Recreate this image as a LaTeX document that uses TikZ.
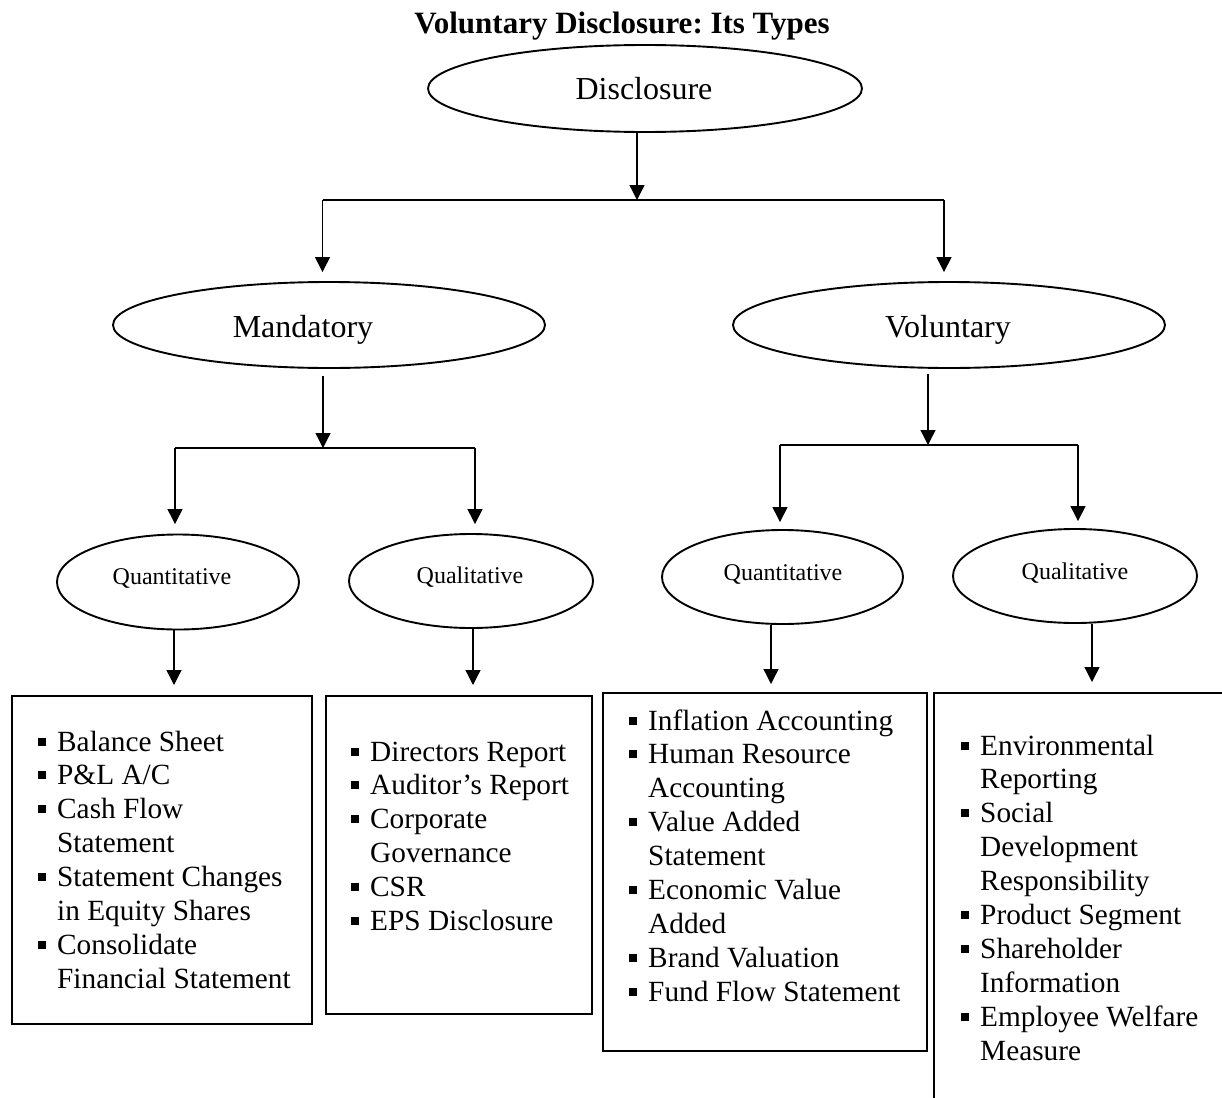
\documentclass[tikz,border=0pt]{standalone}
\usepackage{fontspec}
\setmainfont{Liberation Serif}
\usetikzlibrary{shapes.geometric,arrows.meta}
\newcommand\sqb{\raisebox{5.5pt}{\rule{8pt}{8pt}}}
\frenchspacing
\begin{document}
\begin{tikzpicture}[x=1pt,y=-1pt,
  oval/.style={draw,ellipse,line width=1.9pt,inner sep=0pt},
  conn/.style={line width=1.3pt},
  arr/.style={conn,-{Triangle[width=15pt,length=15pt]}},
  listbox/.style={draw,line width=2pt,rectangle,inner sep=0pt,anchor=north west},
  bigt/.style={inner sep=0pt,anchor=base,font=\fontsize{32}{38}\selectfont},
  smallt/.style={inner sep=0pt,anchor=base,font=\fontsize{24}{28}\selectfont},
  items/.style={inner sep=0pt,anchor=base west,font=\fontsize{29.3}{33.9}\selectfont},
]
\clip (0,0) rectangle (1222,1097);

% title
\node[inner sep=0pt,anchor=base,font=\fontsize{31}{36}\selectfont\bfseries] (title) at (622,34) {Voluntary Disclosure: Its Types};

% ellipses
\node[oval,minimum width=434pt,minimum height=87pt] (disc) at (645,88.5) {};
\node[bigt] (disct) at (644,100) {Disclosure};
\node[oval,minimum width=432pt,minimum height=86pt] (mand) at (329,325) {};
\node[bigt] (mandt) at (303,337) {Mandatory};
\node[oval,minimum width=432pt,minimum height=86pt] (vol) at (949,325) {};
\node[bigt] (volt) at (948,337) {Voluntary};

\node[oval,minimum width=242pt,minimum height=95pt] (mq) at (178,582) {};
\node[smallt] (mqt) at (172,584) {Quantitative};
\node[oval,minimum width=244pt,minimum height=94pt] (ml) at (471,581) {};
\node[smallt] (mlt) at (470,583) {Qualitative};
\node[oval,minimum width=241pt,minimum height=94pt] (vq) at (782.5,577) {};
\node[smallt] (vqt) at (783,580) {Quantitative};
\node[oval,minimum width=244pt,minimum height=94pt] (vl) at (1075,576) {};
\node[smallt] (vlt) at (1075,579) {Qualitative};

% boxes
\node[listbox,minimum width=300pt,minimum height=328pt] (box1) at (11,695) {};
\node[listbox,minimum width=266pt,minimum height=318pt] (box2) at (325,695) {};
\node[listbox,minimum width=324pt,minimum height=358pt] (box3) at (602,692) {};
\node[listbox,minimum width=330pt,minimum height=460pt] (box4) at (933,692) {};

% list texts
\node[items] (list1) at (38,751) {\begin{tabular}[t]{@{}l@{\hspace{11pt}}l@{}}
\sqb & Balance Sheet\\
\sqb & P\&L A/C\\
\sqb & Cash Flow\\
 & Statement\\
\sqb & Statement Changes\\
 & in Equity Shares\\
\sqb & Consolidate\\
 & Financial Statement
\end{tabular}};
\node[items] (list2) at (351,761) {\begin{tabular}[t]{@{}l@{\hspace{11pt}}l@{}}
\sqb & Directors Report\\
\sqb & Auditor’s Report\\
\sqb & Corporate\\
 & Governance\\
\sqb & CSR\\
\sqb & EPS Disclosure
\end{tabular}};
\node[items] (list3) at (629,730) {\begin{tabular}[t]{@{}l@{\hspace{11pt}}l@{}}
\sqb & Inflation Accounting\\
\sqb & Human Resource\\
 & Accounting\\
\sqb & Value Added\\
 & Statement\\
\sqb & Economic Value\\
 & Added\\
\sqb & Brand Valuation\\
\sqb & Fund Flow Statement
\end{tabular}};
\node[items] (list4) at (961,755) {\begin{tabular}[t]{@{}l@{\hspace{11pt}}l@{}}
\sqb & Environmental\\
 & Reporting\\
\sqb & Social\\
 & Development\\
 & Responsibility\\
\sqb & Product Segment\\
\sqb & Shareholder\\
 & Information\\
\sqb & Employee Welfare\\
 & Measure
\end{tabular}};

% junction coordinates
\coordinate (j0) at (637,200);
\coordinate (jm) at (322.5,200);
\coordinate (jv) at (944,200);
\coordinate (bm) at (323,448);
\coordinate (bm1) at (175,448);
\coordinate (bm2) at (475,448);
\coordinate (bv) at (928,445);
\coordinate (bv1) at (780,445);
\coordinate (bv2) at (1078,445);
\coordinate (a1) at (174,0);
\coordinate (a2) at (473,0);
\coordinate (a3) at (771,0);
\coordinate (a4) at (1092,0);

% connectors level 1
\draw[arr] (disc.south -| j0) -- (j0);
\draw[conn] (jm) -- (jv);
\draw[arr,shorten >=9pt] (jm) -- (jm |- mand.north);
\draw[arr,shorten >=9pt] (jv) -- (jv |- vol.north);

% level 2
\draw[arr,shorten <=7pt] (mand.south -| bm) -- (bm);
\draw[conn] (bm1) -- (bm2);
\draw[arr,shorten >=9.5pt] (bm1) -- (bm1 |- mq.north);
\draw[arr,shorten >=9pt] (bm2) -- (bm2 |- ml.north);
\draw[arr,shorten <=5pt] (vol.south -| bv) -- (bv);
\draw[conn] (bv1) -- (bv2);
\draw[arr,shorten >=7pt] (bv1) -- (bv1 |- vq.north);
\draw[arr,shorten >=7pt] (bv2) -- (bv2 |- vl.north);

% level 3
\draw[arr,shorten >=10pt] (mq.south -| a1) -- (box1.north -| a1);
\draw[arr,shorten >=10pt] (ml.south -| a2) -- (box2.north -| a2);
\draw[arr,shorten >=8pt] (vq.south -| a3) -- (box3.north -| a3);
\draw[arr,shorten >=10pt] (vl.south -| a4) -- (box4.north -| a4);
\end{tikzpicture}
\end{document}
